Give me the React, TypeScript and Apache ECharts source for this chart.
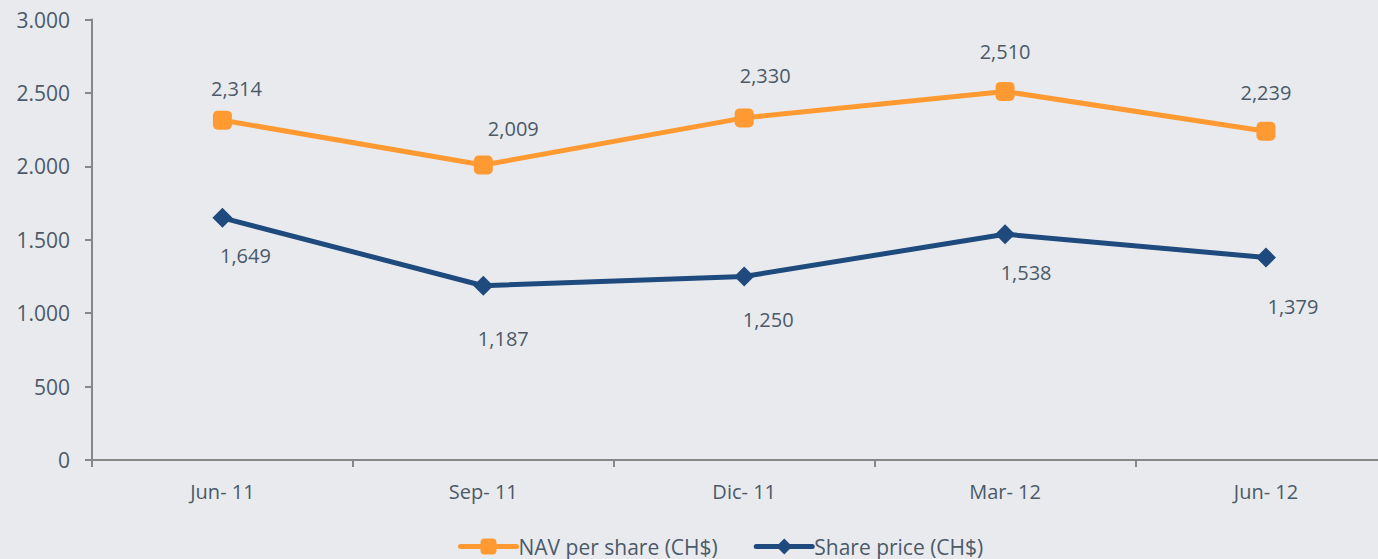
import React, { useEffect, useRef } from "react";
import * as echarts from "echarts";

const categories = ["Jun- 11", "Sep- 11", "Dic- 11", "Mar- 12", "Jun- 12"];
const navPerShare = [2314, 2009, 2330, 2510, 2239];
const sharePrice = [1649, 1187, 1250, 1538, 1379];
const navLabelOffsets = [[14, -32], [30, -37], [21, -42], [0, -40], [0, -39]];
const priceLabelOffsets = [[23, 38], [20, 53], [24, 43], [21, 38], [27, 49]];

const TEXT = "#4b5a69";
const AXIS = "#878787";
const FONT = "'Open Sans', sans-serif";

const fmtComma = (v: number) => v.toLocaleString("en-US");
const fmtDot = (v: number) => v.toLocaleString("en-US").replace(/,/g, ".");

export default function App() {
  const ref = useRef<HTMLDivElement>(null);
  useEffect(() => {
    if (!ref.current) return;
    const chart = echarts.init(ref.current, null, { renderer: "svg" });
    const mkData = (vals: number[], offs: number[][]) =>
      vals.map((v, i) => ({ value: v, label: { offset: offs[i] } }));
    chart.setOption({
      animation: false,
      backgroundColor: "#e9eaee",
      textStyle: { fontFamily: FONT },
      grid: { left: 92, right: 23.6, top: 19.5, bottom: 99 },
      legend: {
        left: 453,
        top: 531,
        itemWidth: 56,
        itemHeight: 20,
        itemGap: 36,
        lineStyle: { width: 5, cap: "round" },
        textStyle: { color: TEXT, fontSize: 21, fontFamily: FONT, padding: [0, 0, 0, -3] },
        data: ["NAV per share (CH$)", "Share price (CH$)"],
      },
      xAxis: {
        type: "category",
        data: categories,
        boundaryGap: true,
        axisLine: { lineStyle: { color: AXIS, width: 2 } },
        axisTick: { show: true, length: 7, lineStyle: { color: AXIS, width: 2 } },
        axisLabel: { color: TEXT, fontSize: 20, fontFamily: FONT, margin: 21 },
        splitLine: { show: false },
      },
      yAxis: {
        type: "value",
        min: 0,
        max: 3000,
        interval: 500,
        axisLine: { show: true, lineStyle: { color: AXIS, width: 2 } },
        axisTick: { show: true, length: 7, lineStyle: { color: AXIS, width: 2 } },
        axisLabel: { color: TEXT, fontSize: 21, fontFamily: FONT, margin: 22, formatter: fmtDot },
        splitLine: { show: false },
      },
      series: [
        {
          name: "NAV per share (CH$)",
          type: "line",
          data: mkData(navPerShare, navLabelOffsets),
          color: "#ff9a33",
          symbol: "roundRect",
          symbolSize: 19,
          lineStyle: { width: 5, color: "#ff9a33" },
          itemStyle: { color: "#ff9a33" },
          label: {
            show: true,
            position: "inside",
            color: TEXT,
            fontSize: 20,
            fontFamily: FONT,
            formatter: (p: any) => fmtComma(p.value),
          },
        },
        {
          name: "Share price (CH$)",
          type: "line",
          data: mkData(sharePrice, priceLabelOffsets),
          color: "#1f4a7e",
          symbol: "diamond",
          symbolSize: 20,
          lineStyle: { width: 5, color: "#1f4a7e" },
          itemStyle: { color: "#1f4a7e" },
          label: {
            show: true,
            position: "inside",
            color: TEXT,
            fontSize: 20,
            fontFamily: FONT,
            formatter: (p: any) => fmtComma(p.value),
          },
        },
      ],
    });
    return () => chart.dispose();
  }, []);
  return (
    <div style={{ position: "absolute", left: 0, top: 0, width: 1378, height: 559, overflow: "hidden" }}>
      <div ref={ref} style={{ width: 1420, height: 559 }} />
    </div>
  );
}
